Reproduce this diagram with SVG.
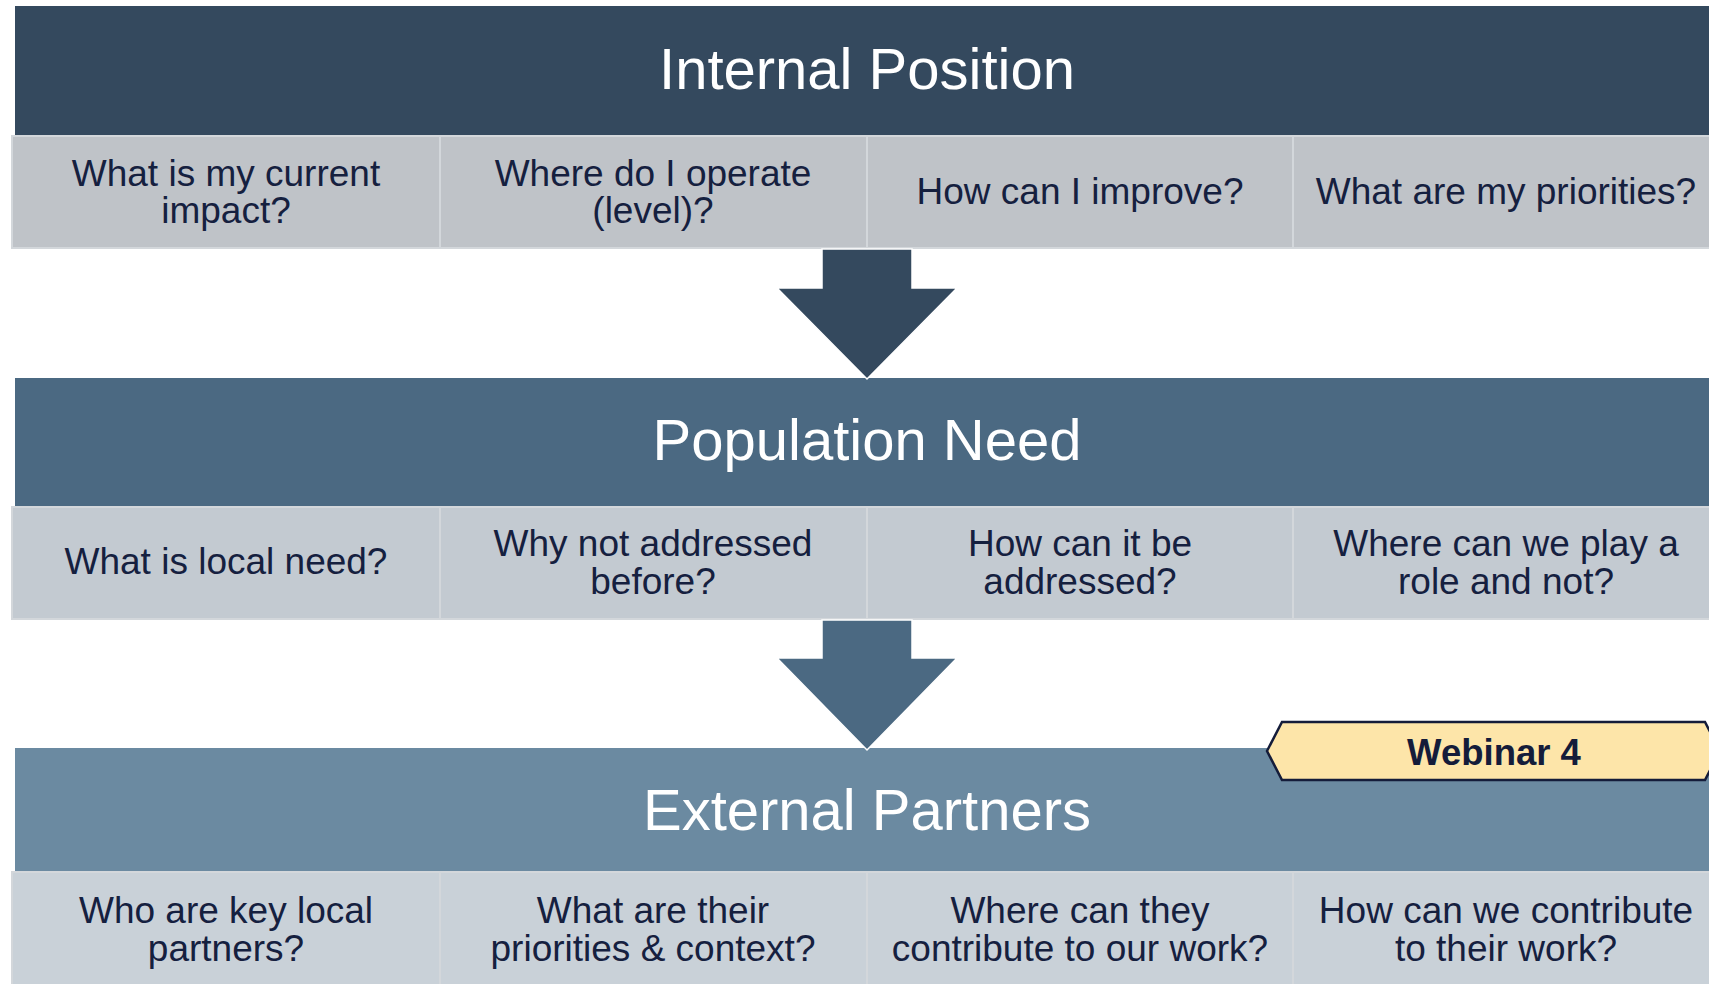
<svg xmlns="http://www.w3.org/2000/svg" width="1709" height="984" viewBox="0 0 1709 984">
<style>
.title{font-family:"Liberation Sans",Arial,sans-serif;font-size:58px;fill:#ffffff;text-anchor:middle}
.q{font-family:"Liberation Sans",Arial,sans-serif;font-size:37px;fill:#15203f;text-anchor:middle}
.cell{stroke:#d3d7db;stroke-width:2}
.r1{fill:#bfc3c8}.r2{fill:#c3cad1}.r3{fill:#c9d1d8}
.arrow{stroke:#ffffff;stroke-width:1.5;stroke-linejoin:miter}
.badge{fill:#fde5a9;stroke:#141c3a;stroke-width:2.5}
.badgetxt{font-family:"Liberation Sans",Arial,sans-serif;font-size:36.5px;font-weight:bold;fill:#141c3a;text-anchor:middle}
</style>
<rect width="1709" height="984" fill="#ffffff"/>

<g id="internal-position">
<rect x="15" y="6" width="1700" height="130" fill="#34495e"/>
<text class="title" x="867" y="89">Internal Position</text>
</g>
<g id="ip-cells">
<g id="ip-1"><rect class="cell r1" x="12" y="136" width="428" height="112"/><text class="q" x="226" y="185.5">What is my current</text><text class="q" x="226" y="223">impact?</text></g>
<g id="ip-2"><rect class="cell r1" x="440" y="136" width="427" height="112"/><text class="q" x="653" y="185.5">Where do I operate</text><text class="q" x="653" y="223">(level)?</text></g>
<g id="ip-3"><rect class="cell r1" x="867" y="136" width="426" height="112"/><text class="q" x="1080" y="204">How can I improve?</text></g>
<g id="ip-4"><rect class="cell r1" x="1293" y="136" width="427" height="112"/><text class="q" x="1506" y="204">What are my priorities?</text></g>
</g>

<g id="population-need">
<rect x="15" y="378" width="1700" height="129" fill="#4b6982"/>
<text class="title" x="867" y="460">Population Need</text>
</g>
<g id="pn-cells">
<g id="pn-1"><rect class="cell r2" x="12" y="507" width="428" height="112"/><text class="q" x="226" y="574">What is local need?</text></g>
<g id="pn-2"><rect class="cell r2" x="440" y="507" width="427" height="112"/><text class="q" x="653" y="555.5">Why not addressed</text><text class="q" x="653" y="594">before?</text></g>
<g id="pn-3"><rect class="cell r2" x="867" y="507" width="426" height="112"/><text class="q" x="1080" y="555.5">How can it be</text><text class="q" x="1080" y="594">addressed?</text></g>
<g id="pn-4"><rect class="cell r2" x="1293" y="507" width="427" height="112"/><text class="q" x="1506" y="555.5">Where can we play a</text><text class="q" x="1506" y="594">role and not?</text></g>
</g>

<g id="external-partners">
<rect x="15" y="748" width="1700" height="124" fill="#6b8aa1"/>
<text class="title" x="867" y="830">External Partners</text>
</g>
<g id="ep-cells">
<g id="ep-1"><rect class="cell r3" x="12" y="872" width="428" height="120"/><text class="q" x="226" y="922.5">Who are key local</text><text class="q" x="226" y="960.5">partners?</text></g>
<g id="ep-2"><rect class="cell r3" x="440" y="872" width="427" height="120"/><text class="q" x="653" y="922.5">What are their</text><text class="q" x="653" y="960.5">priorities &amp; context?</text></g>
<g id="ep-3"><rect class="cell r3" x="867" y="872" width="426" height="120"/><text class="q" x="1080" y="922.5">Where can they</text><text class="q" x="1080" y="960.5">contribute to our work?</text></g>
<g id="ep-4"><rect class="cell r3" x="1293" y="872" width="427" height="120"/><text class="q" x="1506" y="922.5">How can we contribute</text><text class="q" x="1506" y="960.5">to their work?</text></g>
</g>

<g id="connectors">
<polygon class="arrow" fill="#34495e" points="822,249 912,249 912,288 957,288 867,379 777,288 822,288"/>
<polygon class="arrow" fill="#4b6982" points="822,620 912,620 912,658 957,658 867,750 777,658 822,658"/>
</g>

<g id="webinar-4">
<polygon class="badge" points="1267,751 1282,722 1705,722 1720,751 1705,780 1282,780"/>
<text class="badgetxt" x="1494" y="765">Webinar 4</text>
</g>
</svg>
